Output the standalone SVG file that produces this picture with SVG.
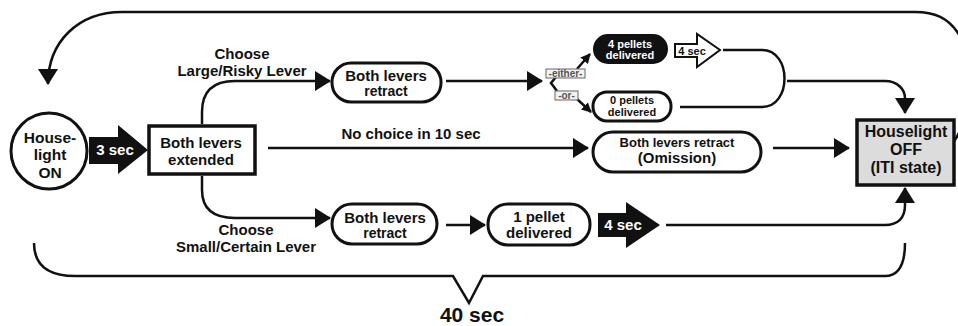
<svg xmlns="http://www.w3.org/2000/svg" width="958" height="326" viewBox="0 0 958 326">
<defs>
<marker id="ah" markerUnits="userSpaceOnUse" viewBox="0 0 16 16" markerWidth="16" markerHeight="16" refX="15" refY="8" orient="auto"><path d="M0,0 L16,8 L0,16 z" fill="#111"/></marker>
<marker id="ahb" markerUnits="userSpaceOnUse" viewBox="0 0 16 20" markerWidth="16" markerHeight="20" refX="15" refY="10" orient="auto"><path d="M0,0 L16,10 L0,20 z" fill="#111"/></marker>
<marker id="ahs" markerUnits="userSpaceOnUse" viewBox="0 0 10 10" markerWidth="10" markerHeight="10" refX="9" refY="5" orient="auto"><path d="M0,0 L10,5 L0,10 z" fill="#111"/></marker>
<style>
text{font-family:"Liberation Sans",Arial,sans-serif;font-weight:bold;fill:#111;text-anchor:middle}
.c{fill:none;stroke:#111;stroke-width:2.5}
.pill{fill:#fff;stroke:#111;stroke-width:3}
.box{stroke:#111;stroke-width:3.5}
.t15{font-size:15px}
.t14{font-size:14px}
.t12{font-size:11px}
.w{fill:#fff}
.tag{fill:#f2f2f2;stroke:#666;stroke-width:1}
.tt{font-size:10px;fill:#555}
</style>
</defs>
<rect width="958" height="326" fill="#fff"/>

<g id="connectors">
<path class="c" d="M952 143 C968 130 975 60 958 33 C948 18 935 12 915 12 L122 12 C78 12 48 42 48 84" marker-end="url(#ahb)"/>
<path class="c" d="M202 124 L202 112 C202 92 212 81 235 81 L330 81" marker-end="url(#ahb)"/>
<path class="c" d="M202 176 L202 190 C202 208 212 218 235 218 L330 218" marker-end="url(#ahb)"/>
<path class="c" d="M268 148 L588 148" marker-end="url(#ahb)"/>
<path class="c" d="M446 81 L542 81" marker-end="url(#ahb)"/>
<path class="c" d="M577 69 L590 54" marker-end="url(#ahs)" stroke-width="2"/>
<path class="c" d="M556 77 L551 83 L557 91" stroke-width="2"/>
<path class="c" d="M577 99 L591 112" marker-end="url(#ahs)" stroke-width="2"/>
<path class="c" d="M723 50 L762 50 C792 50 792 107 762 107 L680 107"/>
<path class="c" d="M787 81 L885 81 C898 81 905 90 905 98 L905 113" marker-end="url(#ahb)"/>
<path class="c" d="M773 148 L849 148" marker-end="url(#ahb)"/>
<path class="c" d="M446 225 L485 225" marker-end="url(#ahb)"/>
<path class="c" d="M666 225 L885 225 C898 225 905 218 905 205 L905 188" marker-end="url(#ahb)"/>
<path class="c" stroke-width="3" d="M34 243 C34 265 48 276 75 276 L453 276 L469 303 L483 276 L885 276 C898 276 905 265 905 243"/>
<text x="242" y="59" class="t15">Choose</text>
<text x="242" y="76" class="t15">Large/Risky Lever</text>
<text x="246" y="235" class="t15">Choose</text>
<text x="246" y="252" class="t15">Small/Certain Lever</text>
<text x="411" y="139" class="t15">No choice in 10 sec</text>
<text x="472" y="322" font-size="21">40 sec</text>
</g>

<g id="houselight-on">
<circle cx="49" cy="151" r="38" fill="#fff" stroke="#111" stroke-width="3"/>
<text x="50" y="143" font-size="15.5">House-</text>
<text x="50" y="160" font-size="15.5">light</text>
<text x="50" y="178" font-size="15.5">ON</text>
</g>

<g id="delay-3sec">
<path d="M89 137 L118 137 L118 125 L148 150 L118 174 L118 164 L89 164 z" fill="#111"/>
<text x="115" y="155" class="t15 w">3 sec</text>
</g>

<g id="levers-extended">
<rect x="149" y="126" width="106" height="48" fill="#fff" class="box"/>
<text x="201" y="148" class="t15">Both levers</text>
<text x="201" y="165" class="t15">extended</text>
</g>

<g id="retract-large">
<rect x="332" y="63" width="109" height="39" rx="19" class="pill"/>
<text x="386" y="81" class="t15">Both levers</text>
<text x="386" y="96" class="t14">retract</text>
</g>

<g id="either">
<rect x="546" y="69" width="39" height="9" class="tag"/>
<text x="565.5" y="77" class="tt">-either-</text>
</g>
<g id="or">
<rect x="555" y="91" width="23" height="9" class="tag"/>
<text x="566.5" y="99" class="tt">-or-</text>
</g>

<g id="pellets-4">
<rect x="594" y="35" width="73" height="28" rx="14" fill="#111" stroke="#111" stroke-width="2"/>
<text x="630" y="48" class="t12 w">4 pellets</text>
<text x="630" y="59" class="t12 w">delivered</text>
</g>

<g id="delay-4sec-large">
<path d="M675 44 L697 44 L697 34 L720 50 L697 67 L697 57 L675 57 z" fill="#fff" stroke="#111" stroke-width="2"/>
<text x="692" y="55" class="t12">4 sec</text>
</g>

<g id="pellets-0">
<rect x="593" y="92" width="78" height="29" rx="14" class="pill" stroke-width="2.5"/>
<text x="632" y="104" class="t12">0 pellets</text>
<text x="632" y="116" class="t12">delivered</text>
</g>

<g id="omission">
<rect x="593" y="132" width="168" height="40" rx="20" class="pill"/>
<text x="677" y="147" font-size="13">Both levers retract</text>
<text x="677" y="163" class="t15">(Omission)</text>
</g>

<g id="houselight-off">
<rect x="857" y="120" width="97" height="65" fill="#dcdcdc" class="box"/>
<text x="906" y="137" font-size="16">Houselight</text>
<text x="906" y="155" font-size="16">OFF</text>
<text x="906" y="173" font-size="16">(ITI state)</text>
</g>

<g id="retract-small">
<rect x="332" y="204" width="105" height="40" rx="20" class="pill"/>
<text x="385" y="223" class="t15">Both levers</text>
<text x="385" y="238" class="t14">retract</text>
</g>

<g id="pellet-1">
<rect x="488" y="204" width="102" height="41" rx="20" class="pill"/>
<text x="539" y="222" class="t15">1 pellet</text>
<text x="539" y="238" class="t15">delivered</text>
</g>

<g id="delay-4sec-small">
<path d="M598 213 L626 213 L626 202 L660 225 L626 248 L626 237 L598 237 z" fill="#111"/>
<text x="623" y="230" class="t15 w">4 sec</text>
</g>
</svg>
